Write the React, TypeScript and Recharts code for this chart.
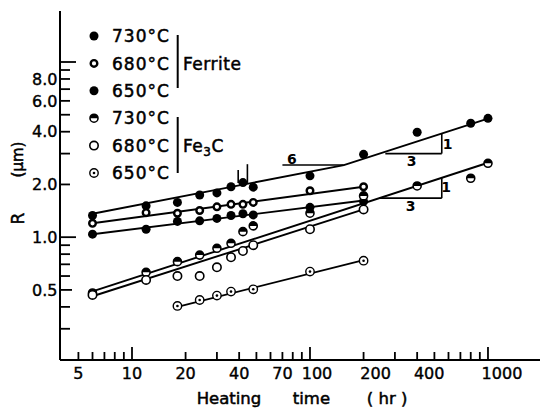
import { ScatterChart, Scatter, XAxis, YAxis, ReferenceLine, ReferenceDot } from "recharts";

// heating time (hr) and particle radius R (um)
const ferrite730T = [6, 12, 18, 24, 30, 36, 42, 48, 100, 200, 400, 800, 1000];
const ferrite730R = [1.33, 1.51, 1.58, 1.74, 1.79, 1.94, 2.05, 1.93, 2.24, 2.97, 3.97, 4.47, 4.77];
const ferrite680T = [6, 12, 18, 24, 30, 36, 42, 48, 100, 200];
const ferrite680R = [1.2, 1.38, 1.37, 1.42, 1.49, 1.54, 1.54, 1.58, 1.84, 1.94];
const ferrite650T = [6, 12, 18, 24, 30, 36, 42, 48, 100, 200];
const ferrite650R = [1.04, 1.11, 1.23, 1.24, 1.28, 1.33, 1.36, 1.34, 1.48, 1.6];
const fe3c730T = [6, 12, 18, 24, 30, 36, 42, 48, 100, 200, 400, 800, 1000];
const fe3c730R = [0.48, 0.63, 0.725, 0.79, 0.864, 0.923, 1.075, 1.16, 1.37, 1.72, 1.96, 2.17, 2.64];
const fe3c680T = [6, 12, 18, 24, 30, 36, 42, 48, 100, 200];
const fe3c680R = [0.468, 0.57, 0.6, 0.6, 0.673, 0.768, 0.834, 0.9, 1.11, 1.44];
const fe3c650T = [18, 24, 30, 36, 48, 100, 200];
const fe3c650R = [0.405, 0.438, 0.464, 0.489, 0.504, 0.636, 0.734];

// fitted lines
const fitF730T = [6, 155, 1050];
const fitF730R = [1.36, 2.58, 4.83];
const fitF680T = [6, 200];
const fitF680R = [1.2, 1.94];
const fitF650T = [6, 200];
const fitF650R = [1.04, 1.62];
const fitC730T = [6, 1000];
const fitC730R = [0.49, 2.66];
const fitC680T = [6, 200];
const fitC680R = [0.46, 1.44];
const fitC650T = [18, 200];
const fitC650R = [0.4, 0.74];

// slope triangles (data coords)
const slopeSegments = [
  [[265, 3.0], [550, 3.0]],
  [[550, 3.0], [550, 3.93]],
  [[245, 1.67], [550, 1.67]],
  [[550, 1.67], [550, 2.19]],
  [[70, 2.58], [155, 2.58]],
  [[44.5, 2.04], [44.5, 2.61]],
  [[39.5, 2.04], [39.5, 2.42]],
];
const slopeLabels = [
  { t: 593, r: 3.4, text: "1" },
  { t: 373, r: 2.73, text: "3" },
  { t: 581, r: 1.93, text: "1" },
  { t: 368, r: 1.51, text: "3" },
  { t: 79, r: 2.78, text: "6" },
];

const xTicks = [5, 6, 7, 8, 9, 10, 20, 30, 40, 50, 60, 70, 80, 90, 100, 200, 300, 400, 500, 600, 700, 800, 900, 1000];
const xLabels = [5, 10, 20, 40, 70, 100, 200, 400, 1000];
const yTicks = [0.3, 0.4, 0.5, 0.6, 0.7, 0.8, 0.9, 1, 2, 3, 4, 5, 6, 7, 8, 9, 10];
const yLabels = [0.5, 1, 2, 4, 6, 8];

const legendTemps = ["730°C", "680°C", "650°C", "730°C", "680°C", "650°C"];

const zip = (t: number[], r: number[]) => t.map((v, i) => ({ t: v, R: r[i] }));

const FONT = "'DejaVu Sans', sans-serif";
// hand lettering in the original sits a bit right of these ticks
const xLabelShift: Record<number, number> = { 100: 7, 200: 12, 400: 12, 1000: 14 };

const Filled = ({ cx, cy }: any) => <circle cx={cx} cy={cy} r={4.5} fill="#000" />;
const Ring = ({ cx, cy }: any) => <circle cx={cx} cy={cy} r={3.3} fill="#fff" stroke="#000" strokeWidth={2.4} />;
const Half = ({ cx, cy }: any) => (
  <g>
    <circle cx={cx} cy={cy} r={4} fill="#fff" stroke="#000" strokeWidth={1.6} />
    <path d={`M${cx - 4},${cy} A4,4 0 0,1 ${cx + 4},${cy} Z`} fill="#000" />
  </g>
);
const Open = ({ cx, cy }: any) => <circle cx={cx} cy={cy} r={4.2} fill="#fff" stroke="#000" strokeWidth={1.6} />;
const Dotted = ({ cx, cy }: any) => (
  <g>
    <circle cx={cx} cy={cy} r={4.2} fill="#fff" stroke="#000" strokeWidth={1.4} />
    <circle cx={cx} cy={cy} r={1.3} fill="#000" />
  </g>
);
const NoDot = () => <g />;

const legendShapes = [Filled, Ring, Filled, Half, Open, Dotted];

const XTick = ({ x, y, payload }: any) => {
  const v = payload.value;
  const major = v === 10 || v === 100 || v === 1000;
  return (
    <g>
      <line x1={x} x2={x} y1={y} y2={y - (major ? 13 : 8)} stroke="#000" strokeWidth={1.8} />
      {xLabels.includes(v) && (
        <text x={x + (xLabelShift[v] || 0)} y={y + 19} textAnchor="middle" fontFamily={FONT} fontSize={16} fill="#000" stroke="#000" strokeWidth={0.4}>
          {v}
        </text>
      )}
    </g>
  );
};

const YTick = ({ x, y, payload }: any) => {
  const v = payload.value;
  const len = v === 1 || v === 10 ? 16 : v === 0.5 ? 12 : 10;
  return (
    <g>
      <line x1={x} x2={x + len} y1={y} y2={y} stroke="#000" strokeWidth={1.8} />
      {yLabels.includes(v) && (
        <text x={x - 28} y={y} dy="0.36em" textAnchor="start" fontFamily={FONT} fontSize={16} fill="#000" stroke="#000" strokeWidth={0.4}>
          {v.toFixed(1)}
        </text>
      )}
    </g>
  );
};

const XTitle = ({ viewBox }: any) => (
  <text
    x={viewBox.x + viewBox.width / 2 + 2}
    y={viewBox.y + 44}
    textAnchor="middle"
    fontFamily={FONT}
    fontSize={16.5}
    fill="#000"
    stroke="#000"
    strokeWidth={0.5}
    style={{ whiteSpace: "pre" }}
  >
    {"Heating      time       ( hr )"}
  </text>
);

const YTitle = ({ viewBox }: any) => {
  const cx = 18;
  const cy = viewBox.y + viewBox.height / 2;
  return (
    <g fontFamily={FONT} fill="#000" stroke="#000" strokeWidth={0.5}>
      <text x={cx} y={cy + 33} transform={`rotate(-90 ${cx} ${cy + 33})`} textAnchor="middle" dy="0.36em" fontSize={17}>
        R
      </text>
      <text x={cx} y={cy - 26} transform={`rotate(-90 ${cx} ${cy - 26})`} textAnchor="middle" dy="0.36em" fontSize={15}>
        (μm)
      </text>
    </g>
  );
};

const LegendOverlay = () => (
  <svg width={542} height={409} style={{ position: "absolute", left: 0, top: 0, pointerEvents: "none" }}>
    {legendTemps.map((label, i) => {
      const Shape = legendShapes[i];
      const y = 36 + i * 27.4;
      return (
        <g key={i}>
          <Shape cx={94} cy={y} />
          <text x={112} y={y} dy="0.36em" fontFamily={FONT} fontSize={17} letterSpacing={1} fill="#000" stroke="#000" strokeWidth={0.5}>
            {label}
          </text>
        </g>
      );
    })}
    <line x1={177.7} x2={177.7} y1={35} y2={88} stroke="#000" strokeWidth={2} />
    <line x1={177.7} x2={177.7} y1={117} y2={173} stroke="#000" strokeWidth={2} />
    <text x={183} y={64} dy="0.36em" fontFamily={FONT} fontSize={17} letterSpacing={0.5} fill="#000" stroke="#000" strokeWidth={0.5}>
      Ferrite
    </text>
    <text x={183} y={146} dy="0.36em" fontFamily={FONT} fontSize={17} letterSpacing={0.5} fill="#000" stroke="#000" strokeWidth={0.5}>
      Fe
      <tspan fontSize={12} dy={4}>3</tspan>
      <tspan dy={-4}>C</tspan>
    </text>
  </svg>
);

const lineStyle = { stroke: "#000", strokeWidth: 1.9 };

export default function App() {
  return (
    <div style={{ position: "absolute", left: 0, top: 0, width: 542, height: 409, background: "#fff" }}>
      <ScatterChart width={542} height={409} margin={{ top: 11, right: 2, bottom: 0, left: 0 }}>
        <XAxis
          dataKey="t"
          type="number"
          scale="log"
          domain={[3.94, 1960]}
          allowDataOverflow
          ticks={xTicks}
          interval={0}
          tickSize={0}
          tickMargin={0}
          tick={<XTick />}
          height={49}
          axisLine={{ stroke: "#000", strokeWidth: 2 }}
          label={<XTitle />}
        />
        <XAxis xAxisId="top" orientation="top" type="number" domain={[0, 1]} height={0} tick={false} tickLine={false} axisLine={{ stroke: "#000", strokeWidth: 2 }} />
        <YAxis
          dataKey="R"
          type="number"
          scale="log"
          domain={[0.199, 19.55]}
          allowDataOverflow
          ticks={yTicks}
          interval={0}
          tickSize={0}
          tickMargin={0}
          tick={<YTick />}
          width={60}
          axisLine={{ stroke: "#000", strokeWidth: 2 }}
          label={<YTitle />}
        />
        <YAxis yAxisId="right" orientation="right" type="number" domain={[0, 1]} width={0} tick={false} tickLine={false} axisLine={{ stroke: "#000", strokeWidth: 2 }} />

        {slopeSegments.map((s, i) => (
          <ReferenceLine
            key={`seg${i}`}
            segment={[{ x: s[0][0], y: s[0][1] }, { x: s[1][0], y: s[1][1] }]}
            stroke="#000"
            strokeWidth={1.6}
            ifOverflow="visible"
          />
        ))}
        {slopeLabels.map((l, i) => (
          <ReferenceDot
            key={`lab${i}`}
            x={l.t}
            y={l.r}
            r={0}
            fill="none"
            stroke="none"
            label={{ value: l.text, position: "center", fontFamily: FONT, fontSize: 14, fontWeight: "bold", fill: "#000" }}
          />
        ))}

        <Scatter data={zip(fitF730T, fitF730R)} line={lineStyle} shape={<NoDot />} isAnimationActive={false} />
        <Scatter data={zip(fitF680T, fitF680R)} line={lineStyle} shape={<NoDot />} isAnimationActive={false} />
        <Scatter data={zip(fitF650T, fitF650R)} line={lineStyle} shape={<NoDot />} isAnimationActive={false} />
        <Scatter data={zip(fitC730T, fitC730R)} line={lineStyle} shape={<NoDot />} isAnimationActive={false} />
        <Scatter data={zip(fitC680T, fitC680R)} line={lineStyle} shape={<NoDot />} isAnimationActive={false} />
        <Scatter data={zip(fitC650T, fitC650R)} line={lineStyle} shape={<NoDot />} isAnimationActive={false} />

        <Scatter data={zip(ferrite730T, ferrite730R)} shape={<Filled />} isAnimationActive={false} />
        <Scatter data={zip(ferrite680T, ferrite680R)} shape={<Ring />} isAnimationActive={false} />
        <Scatter data={zip(ferrite650T, ferrite650R)} shape={<Filled />} isAnimationActive={false} />
        <Scatter data={zip(fe3c730T, fe3c730R)} shape={<Half />} isAnimationActive={false} />
        <Scatter data={zip(fe3c680T, fe3c680R)} shape={<Open />} isAnimationActive={false} />
        <Scatter data={zip(fe3c650T, fe3c650R)} shape={<Dotted />} isAnimationActive={false} />
      </ScatterChart>
      <LegendOverlay />
    </div>
  );
}
